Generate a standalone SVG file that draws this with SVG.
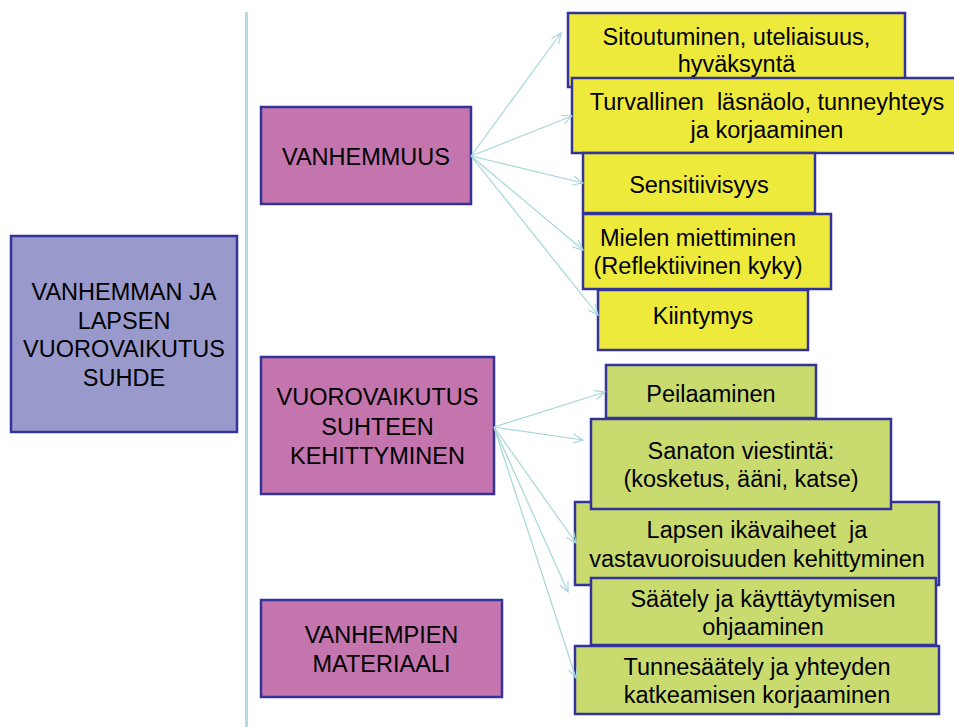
<svg xmlns="http://www.w3.org/2000/svg" width="954" height="727" viewBox="0 0 954 727">
<defs>
<style>
.box{stroke:#333399;stroke-width:2.5}
.root{fill:#9999cc}
.mid{fill:#c475ad}
.yel{fill:#eeea3c}
.grn{fill:#c9db6e}
text{font-family:"Liberation Sans",Arial,sans-serif;font-size:23.5px;fill:#000;text-anchor:middle}
.conn line{stroke:#a6d6da;stroke-width:1.2;fill:none}
</style>
<marker id="ah" markerUnits="userSpaceOnUse" markerWidth="14" markerHeight="12" refX="0" refY="0" viewBox="-12 -6 14 12" orient="auto">
<path d="M-10,-4.5 L0,0 L-10,4.5" fill="none" stroke="#a6d6da" stroke-width="1.2"/>
</marker>
</defs>
<rect width="954" height="727" fill="#fff"/>
<line x1="246.5" y1="12" x2="246.5" y2="727" stroke="#b4dcdf" stroke-width="3"/>

<g id="root">
<rect class="box root" x="11" y="236" width="226" height="196"/>
<text x="124" y="300">VANHEMMAN JA</text>
<text x="124" y="328.5">LAPSEN</text>
<text x="124" y="357">VUOROVAIKUTUS</text>
<text x="124" y="385.5">SUHDE</text>
</g>

<g id="vanhemmuus">
<rect class="box mid" x="261" y="107" width="210" height="97"/>
<text x="366" y="165">VANHEMMUUS</text>
</g>

<g id="vuorovaikutus">
<rect class="box mid" x="261" y="357" width="233" height="137"/>
<text x="377.5" y="405">VUOROVAIKUTUS</text>
<text x="377.5" y="434.5">SUHTEEN</text>
<text x="377.5" y="464">KEHITTYMINEN</text>
</g>

<g id="materiaali">
<rect class="box mid" x="261" y="600" width="241" height="97"/>
<text x="381.5" y="643">VANHEMPIEN</text>
<text x="381.5" y="672">MATERIAALI</text>
</g>

<g id="sitoutuminen">
<rect class="box yel" x="568" y="13" width="337" height="74"/>
<text x="736.5" y="45">Sitoutuminen, uteliaisuus,</text>
<text x="736.5" y="72">hyväksyntä</text>
</g>

<g id="turvallinen">
<rect class="box yel" x="572" y="78" width="392" height="75"/>
<text x="767" y="110" xml:space="preserve">Turvallinen  läsnäolo, tunneyhteys</text>
<text x="767" y="138">ja korjaaminen</text>
</g>

<g id="sensitiivisyys">
<rect class="box yel" x="583" y="153" width="232" height="60"/>
<text x="699" y="193">Sensitiivisyys</text>
</g>

<g id="kiintymys">
<rect class="box yel" x="598" y="290" width="210" height="60"/>
<text x="703" y="324">Kiintymys</text>
</g>

<g id="mielen">
<rect class="box yel" x="583" y="214" width="248" height="75"/>
<text x="698" y="246">Mielen miettiminen</text>
<text x="698" y="274">(Reflektiivinen kyky)</text>
</g>

<g id="peilaaminen">
<rect class="box grn" x="606" y="365" width="210" height="53"/>
<text x="711" y="402">Peilaaminen</text>
</g>

<g id="lapsen">
<rect class="box grn" x="575" y="502" width="364" height="83"/>
<text x="757" y="538" xml:space="preserve">Lapsen ikävaiheet  ja</text>
<text x="757" y="567">vastavuoroisuuden kehittyminen</text>
</g>

<g id="sanaton">
<rect class="box grn" x="591" y="419" width="300" height="90"/>
<text x="741" y="459">Sanaton viestintä:</text>
<text x="741" y="487">(kosketus, ääni, katse)</text>
</g>

<g id="saately">
<rect class="box grn" x="591" y="578" width="345" height="67"/>
<text x="763" y="607">Säätely ja käyttäytymisen</text>
<text x="763" y="635">ohjaaminen</text>
</g>

<g id="tunnesaately">
<rect class="box grn" x="575" y="646" width="364" height="68"/>
<text x="757" y="675">Tunnesäätely ja yhteyden</text>
<text x="757" y="703">katkeamisen korjaaminen</text>
</g>

<g id="connectors" class="conn">
<line x1="471" y1="156" x2="561" y2="33" marker-end="url(#ah)"/>
<line x1="471" y1="156" x2="572" y2="116" marker-end="url(#ah)"/>
<line x1="471" y1="156" x2="583" y2="183" marker-end="url(#ah)"/>
<line x1="471" y1="156" x2="583" y2="250" marker-end="url(#ah)"/>
<line x1="471" y1="156" x2="598" y2="315" marker-end="url(#ah)"/>
<line x1="494" y1="427" x2="605" y2="392" marker-end="url(#ah)"/>
<line x1="494" y1="427" x2="583" y2="440" marker-end="url(#ah)"/>
<line x1="494" y1="427" x2="576" y2="543" marker-end="url(#ah)"/>
<line x1="494" y1="427" x2="568" y2="592" marker-end="url(#ah)"/>
<line x1="494" y1="427" x2="576" y2="678" marker-end="url(#ah)"/>
</g>
</svg>
